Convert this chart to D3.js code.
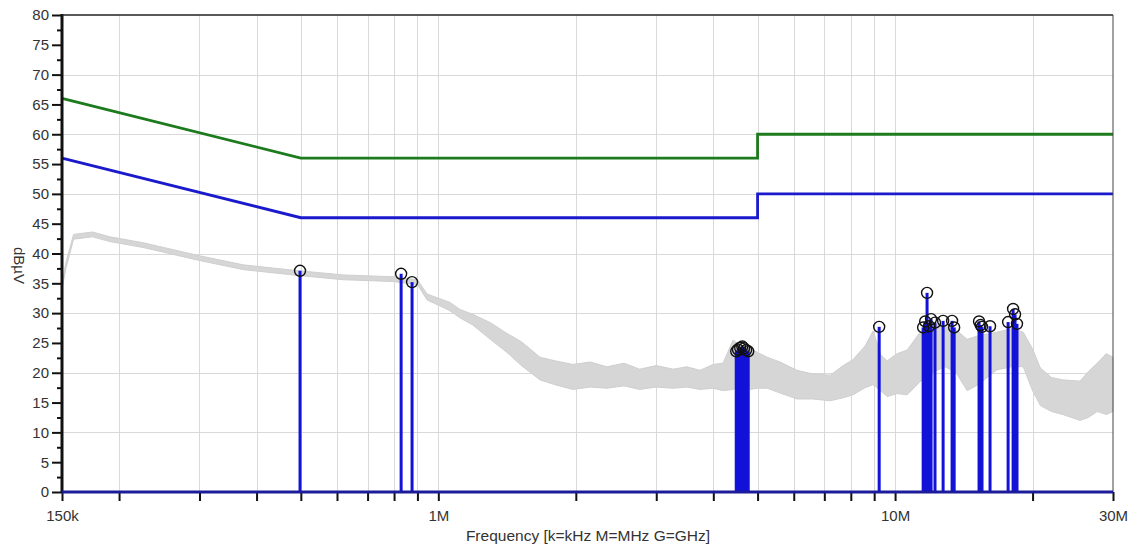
<!DOCTYPE html>
<html>
<head>
<meta charset="utf-8">
<script src="https://cdn.jsdelivr.net/npm/d3@7"></script>
<style>
  body { margin: 0; background: #ffffff; }
  svg { font-family: "Liberation Sans", Arial, sans-serif; }
  .axis text { font-size: 15px; fill: #333333; }
  .grid line { stroke: #d9d9d9; stroke-width: 1; }
</style>
</head>
<body>
<div id="chart"></div>
<script>
// limit lines (MHz / dBuV)
var limitFreq = [0.15, 0.5, 5, 5, 30];
var limitQP = [66, 56, 56, 60, 60];
var limitAV = [56, 46, 46, 50, 50];

// background scan, read as upper / lower edge of the grey band
var scanFreq = [0.150, 0.153, 0.159, 0.175, 0.191, 0.226, 0.301, 0.374, 0.481, 0.619, 0.796, 0.900, 0.945,
  1.009, 1.06, 1.116, 1.19, 1.30, 1.414, 1.52, 1.67, 1.80, 1.97, 2.15, 2.34, 2.55, 2.76, 3.0, 3.27, 3.5, 3.74,
  4.0, 4.20, 4.42, 4.60, 4.82, 5.0, 5.25, 5.6, 6.10, 6.6, 7.21, 7.7, 8.09, 8.6, 8.95, 9.3, 9.61, 10.1, 10.63,
  11.34, 12.0, 12.87, 13.6, 14.38, 15.2, 16.72, 18.0, 19.08, 20.0, 20.8, 22.0, 23.3, 25.4, 26.5, 27.7, 29.0, 30.0];
var scanHi = [35.0, 38.5, 43.2, 43.6, 42.8, 41.8, 39.6, 38.1, 37.2, 36.4, 36.1, 35.6, 33.2,
  32.4, 31.8, 30.6, 29.8, 28.4, 26.6, 25.2, 22.6, 22.0, 21.4, 21.8, 21.0, 21.6, 20.6, 21.2, 20.6, 21.0, 20.4,
  21.4, 21.6, 25.5, 24.4, 24.0, 23.4, 22.6, 21.8, 20.4, 19.8, 19.6, 21.2, 22.2, 24.5, 27.0, 23.0, 22.0, 23.2, 23.8,
  26.8, 28.2, 27.8, 27.2, 25.6, 26.2, 26.8, 27.4, 26.8, 24.0, 20.8, 19.2, 18.8, 18.6, 20.2, 21.6, 23.2, 22.6];
var scanLo = [34.0, 37.5, 42.4, 42.8, 42.0, 41.0, 38.8, 37.3, 36.4, 35.6, 35.3, 34.8, 32.2,
  31.2, 30.4, 29.2, 28.0, 25.6, 23.4, 21.2, 18.8, 18.0, 17.2, 17.6, 17.4, 17.8, 17.2, 17.6, 17.4, 17.6, 17.2,
  17.4, 17.0, 17.2, 17.6, 17.2, 17.4, 17.4, 16.6, 15.6, 15.6, 15.3, 15.8, 16.3, 17.5, 18.0, 17.0, 16.0, 16.5, 16.3,
  18.5, 20.0, 21.0, 20.0, 17.0, 18.0, 20.5, 21.0, 21.0, 17.0, 14.5, 13.5, 13.0, 12.0, 12.5, 13.5, 13.0, 13.5];

// peak markers
var peakFreq = [0.498, 0.829, 0.876,
  4.49, 4.53, 4.58, 4.63, 4.67, 4.72, 4.77,
  9.23,
  11.52, 11.64, 11.75, 11.87, 11.99, 12.23, 12.74, 13.33, 13.47,
  15.27, 15.39, 15.50, 16.14, 17.68, 18.13, 18.31, 18.49];
var peakLevel = [37.1, 36.6, 35.2,
  23.6, 23.9, 24.2, 24.4, 24.1, 23.8, 23.6,
  27.7,
  27.6, 28.6, 33.4, 27.8, 29.0, 28.4, 28.7, 28.7, 27.6,
  28.6, 28.0, 27.7, 27.8, 28.5, 30.7, 29.8, 28.2];

// axis ticks
var xGrid = [0.2, 0.3, 0.4, 0.5, 0.6, 0.7, 0.8, 0.9, 1, 2, 3, 4, 5, 6, 7, 8, 9, 10, 20];
var xLabels = {0.15: "150k", 1: "1M", 10: "10M", 30: "30M"};
var yMajor = [0, 5, 10, 15, 20, 25, 30, 35, 40, 45, 50, 55, 60, 65, 70, 75, 80];
var yMinor = [2.5, 7.5, 12.5, 17.5, 22.5, 27.5, 32.5, 37.5, 42.5, 47.5, 52.5, 57.5, 62.5, 67.5, 72.5, 77.5];
var yGrid = [10, 20, 30, 40, 50, 60, 70];

var margin = {top: 15, right: 18, bottom: 56, left: 62},
    width = 1131,
    height = 548,
    w = width - margin.left - margin.right,
    h = height - margin.top - margin.bottom;

var x = d3.scaleLog().domain([0.15, 30]).range([0, w]),
    y = d3.scaleLinear().domain([0, 80]).range([h, 0]);

var svg = d3.select("#chart").append("svg")
    .attr("width", width)
    .attr("height", height);
var g = svg.append("g")
    .attr("transform", "translate(" + margin.left + "," + margin.top + ")");

// grid
var grid = g.append("g").attr("class", "grid");
grid.selectAll("line.v").data(xGrid).enter().append("line")
    .attr("class", "v")
    .attr("x1", function(d) { return Math.round(x(d)) + 0.5; })
    .attr("x2", function(d) { return Math.round(x(d)) + 0.5; })
    .attr("y1", 0).attr("y2", h);
grid.selectAll("line.h").data(yGrid).enter().append("line")
    .attr("class", "h")
    .attr("x1", 0).attr("x2", w)
    .attr("y1", function(d) { return Math.round(y(d)) + 0.5; })
    .attr("y2", function(d) { return Math.round(y(d)) + 0.5; });

// grey scan band
var scan = scanFreq.map(function(f, i) { return {f: f, hi: scanHi[i], lo: scanLo[i]}; });
g.append("path")
    .datum(scan)
    .attr("fill", "#d6d6d6")
    .attr("stroke", "#cfcfcf")
    .attr("stroke-width", 1)
    .attr("d", d3.area()
      .x(function(d) { return x(d.f); })
      .y0(function(d) { return y(d.lo); })
      .y1(function(d) { return y(d.hi); }));

// limit lines
var line = d3.line()
    .x(function(d) { return x(d.f); })
    .y(function(d) { return y(d.v); });
[[limitQP, "#1d7a1d"], [limitAV, "#1a1acc"]].forEach(function(l) {
  g.append("path")
    .datum(limitFreq.map(function(f, i) { return {f: f, v: l[0][i]}; }))
    .attr("fill", "none")
    .attr("stroke", l[1])
    .attr("stroke-width", 2.8)
    .attr("d", line);
});

// peaks
var peaks = peakFreq.map(function(f, i) { return {f: f, v: peakLevel[i]}; });
g.selectAll("line.stem").data(peaks).enter().append("line")
    .attr("class", "stem")
    .attr("x1", function(d) { return x(d.f); })
    .attr("x2", function(d) { return x(d.f); })
    .attr("y1", y(0))
    .attr("y2", function(d) { return y(d.v); })
    .attr("stroke", "#1212d8")
    .attr("stroke-width", 3);

// axes
g.append("g").attr("class", "axis y")
    .call(d3.axisLeft(y).tickValues(yMajor).tickSize(10).tickPadding(3));
g.append("g").attr("class", "axis y minor")
    .call(d3.axisLeft(y).tickValues(yMinor).tickSize(5).tickFormat(""));
g.selectAll(".axis.y path.domain").remove();
g.selectAll(".axis.y line").attr("stroke", "#111").attr("stroke-width", 2);

var xAxis = g.append("g").attr("class", "axis x")
    .attr("transform", "translate(0," + h + ")")
    .call(d3.axisBottom(x).tickValues([0.15].concat(xGrid).concat([30])).tickSize(9).tickPadding(9)
      .tickFormat(function(d) { return xLabels[d] || ""; }));
xAxis.select("path.domain").remove();
xAxis.selectAll("line").attr("stroke", "#111").attr("stroke-width", 2);

// frame
g.append("line").attr("x1", 0).attr("x2", 0).attr("y1", -1).attr("y2", h + 1)
    .attr("stroke", "#111").attr("stroke-width", 3);
g.append("line").attr("x1", 0).attr("x2", w).attr("y1", 0).attr("y2", 0)
    .attr("stroke", "#222").attr("stroke-width", 1.5);
g.append("line").attr("x1", w).attr("x2", w).attr("y1", 0).attr("y2", h)
    .attr("stroke", "#444").attr("stroke-width", 1);

// blue base at 0 dB
g.append("line").attr("x1", 0).attr("x2", w).attr("y1", y(0)).attr("y2", y(0))
    .attr("stroke", "#1c1c9a").attr("stroke-width", 3);

// markers on top
g.selectAll("circle.peak").data(peaks).enter().append("circle")
    .attr("class", "peak")
    .attr("cx", function(d) { return x(d.f); })
    .attr("cy", function(d) { return y(d.v); })
    .attr("r", 5.5)
    .attr("fill", "none")
    .attr("stroke", "#111")
    .attr("stroke-width", 1.4);

// titles
svg.append("text")
    .attr("transform", "translate(14," + (margin.top + y(38)) + ") rotate(90)")
    .attr("text-anchor", "middle")
    .style("font-size", "15px")
    .attr("fill", "#333")
    .text("dBµV");
svg.append("text")
    .attr("x", 588)
    .attr("y", 541)
    .attr("text-anchor", "middle")
    .style("font-size", "15.5px")
    .attr("fill", "#333")
    .text("Frequency [k=kHz M=MHz G=GHz]");
</script>
</body>
</html>
